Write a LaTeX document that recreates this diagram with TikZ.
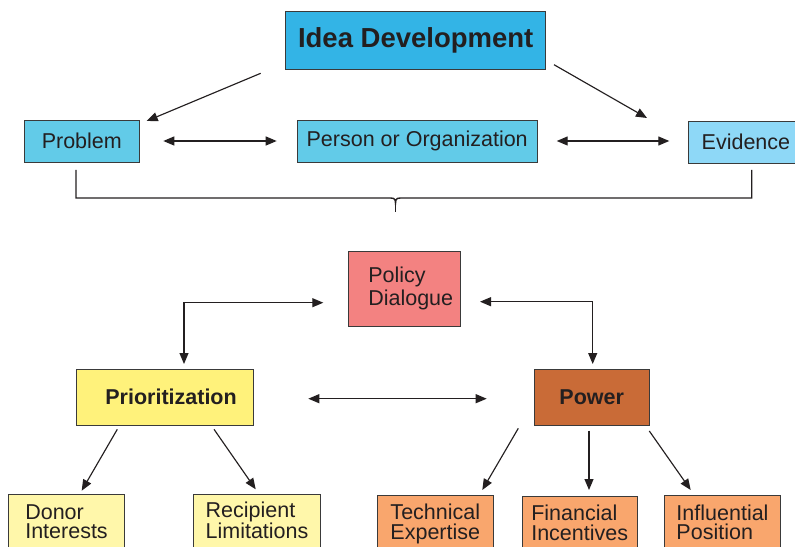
\documentclass[tikz,border=0pt]{standalone}
\usepackage{fontspec}
\setmainfont{Liberation Sans}
\usetikzlibrary{arrows.meta}
\definecolor{txt}{HTML}{231F20}
\definecolor{boxline}{HTML}{3A3A3A}
\definecolor{ideac}{HTML}{33B4E6}
\definecolor{probc}{HTML}{62CBE8}
\definecolor{evic}{HTML}{8ED8F7}
\definecolor{polc}{HTML}{F38281}
\definecolor{prioc}{HTML}{FFF27B}
\definecolor{powc}{HTML}{C96B37}
\definecolor{lyel}{HTML}{FFF7AA}
\definecolor{lorg}{HTML}{F9A66D}
\begin{document}
\begin{tikzpicture}[x=1bp,y=-1bp,
  box/.style={draw=boxline, line width=1bp, inner sep=0pt, text=txt,
    font=\fontsize{21.5bp}{19.5bp}\selectfont},
  boldbox/.style={box, font=\fontsize{21.5bp}{24bp}\selectfont\bfseries},
  lbox/.style={box, anchor=north, align=left, inner ysep=9.3bp,
    text height=34.9bp, text depth=40bp},
  conn/.style={draw=txt, line width=1.15bp, -{Triangle[length=11bp,width=9bp]}},
  conn2/.style={draw=txt, line width=1.15bp,
    {Triangle[length=11bp,width=9bp]}-{Triangle[length=11bp,width=9bp]}},
  bracket/.style={draw=txt, line width=1.4bp}
]
\useasboundingbox (0,0) rectangle (795,547);
\clip (0,0) rectangle (795,547);

% boxes
\node[box, fill=ideac, minimum width=260bp, minimum height=58bp,
  font=\fontsize{27.5bp}{30bp}\selectfont\bfseries] (idea) at (415.7,40.3) {Idea Development};
\node[box, fill=probc, minimum width=115bp, minimum height=42bp] (prob) at (81.8,141.3) {Problem};
\node[box, fill=probc, minimum width=240.3bp, minimum height=42bp] (pers) at (417.2,141.3) {Person or Organization};
\node[box, fill=evic, minimum width=115.2bp, minimum height=42.3bp] (evi) at (745.9,142.2) {Evidence};

\node[box, fill=polc, minimum height=74.7bp, text width=72.4bp, inner xsep=20bp, align=left,
  font=\fontsize{21.5bp}{23.3bp}\selectfont] (pol) at (404.5,288.7) {\mbox{Policy}\\\mbox{Dialogue}};

\node[boldbox, fill=prioc, minimum height=55.7bp, text width=144.1bp, inner xsep=16.6bp,
  align=right] (prio) at (164.7,397.2) {Prioritization};
\node[boldbox, fill=powc, minimum width=114.7bp, minimum height=56bp] (pow) at (591.7,397) {Power};

\node[lbox, fill=lyel, minimum width=115.6bp] (donor) at (66.5,494) {Donor\\Interests};
\node[lbox, fill=lyel, minimum width=127.4bp] (recip) at (257,494) {Recipient\\Limitations};
\node[lbox, fill=lorg, minimum width=116bp, align=right] (tech) at (435.3,494.7) {Technical\\Expertise};
\node[lbox, fill=lorg, minimum width=115.3bp] (fin) at (579.7,495.5) {Financial\\Incentives};
\node[lbox, fill=lorg, minimum width=116.4bp] (infl) at (722.5,495) {Influential\\Position};

% connector end points
\coordinate (a1s) at (260.7,73.3);  \coordinate (a1e) at (146.7,121);
\coordinate (a2s) at (554,64.7);    \coordinate (a2e) at (647,118);
\coordinate (a3s) at (163.3,141);   \coordinate (a3e) at (276.7,141);
\coordinate (a4s) at (556.7,141);   \coordinate (a4e) at (669.3,141);
\coordinate (brL) at (76,170);      \coordinate (brR) at (751.7,170);
\coordinate (brT) at (395.5,212);
\coordinate (p1s) at (323.3,302.7); \coordinate (p1e) at (184,364);
\coordinate (p2s) at (480,301.7);   \coordinate (p2e) at (592.7,364);
\coordinate (m1s) at (308.3,398.7); \coordinate (m1e) at (486.7,398.7);
\coordinate (d1s) at (117.3,429.3); \coordinate (d1e) at (81.7,490.7);
\coordinate (d2s) at (214,429.3);   \coordinate (d2e) at (255.7,489.3);
\coordinate (w1s) at (518.3,428.3); \coordinate (w1e) at (482.3,490);
\coordinate (w2s) at (589,430.7);   \coordinate (w2e) at (589,490);
\coordinate (w3s) at (649.3,431);   \coordinate (w3e) at (690.7,490);

% connectors
\draw[conn] (a1s) -- (a1e);
\draw[conn] (a2s) -- (a2e);
\draw[conn2] (a3s) -- (a3e);
\draw[conn2] (a4s) -- (a4e);

\draw[bracket] (brL) -- (76,198) -- (390.5,198)
  .. controls (395.5,198) and (395.5,200) .. (395.5,205)
  .. controls (395.5,200) and (395.5,198) .. (400.5,198)
  -- (751.7,198) -- (brR);
\draw[bracket] (395.5,205) -- (brT);

\draw[conn2] (p1s) -| (p1e);
\draw[conn2] (p2s) -| (p2e);
\draw[conn2] (m1s) -- (m1e);
\draw[conn] (d1s) -- (d1e);
\draw[conn] (d2s) -- (d2e);
\draw[conn] (w1s) -- (w1e);
\draw[conn] (w2s) -- (w2e);
\draw[conn] (w3s) -- (w3e);
\end{tikzpicture}
\end{document}
